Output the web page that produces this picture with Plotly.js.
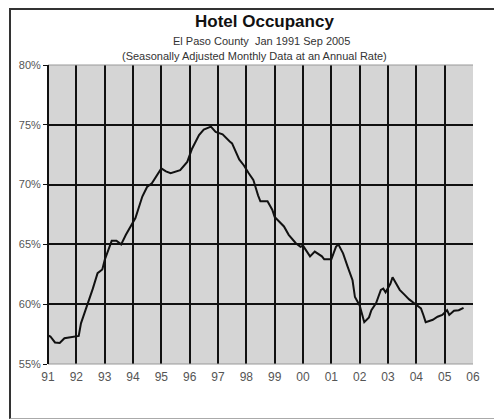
<!DOCTYPE html>
<html>
<head>
<meta charset="utf-8">
<script src="https://cdn.plot.ly/plotly-3.0.1.min.js"></script>
<style>
  html, body { margin: 0; padding: 0; background: white; }
  #frame {
    position: absolute; left: 9px; top: 8px; width: 490px; height: 408px;
    border-top: 2px solid #333; border-left: 2px solid #333; border-bottom: 1px solid #aaa;
  }
  #chart { position: absolute; left: 0; top: 0; width: 494px; height: 419px; }
</style>
</head>
<body>
<div id="frame"></div>
<div id="chart"></div>
<script>
/* Hotel occupancy, El Paso County (month, %) */
const MONTHS = [
  '1991-01','1991-02','1991-04','1991-06','1991-08','1991-12',
  '1992-02','1992-03','1992-06','1992-08','1992-10','1992-12',
  '1993-01','1993-03','1993-04','1993-06','1993-08','1993-10','1993-12',
  '1994-02','1994-05','1994-07','1994-09','1994-11',
  '1995-01','1995-03','1995-05','1995-09','1995-12',
  '1996-02','1996-05','1996-07','1996-10','1996-12',
  '1997-03','1997-06','1997-07','1997-10','1997-12',
  '1998-02','1998-04','1998-06','1998-07','1998-10','1998-12',
  '1999-01','1999-05','1999-07','1999-10','1999-12',
  '2000-01','2000-04','2000-06','2000-09','2000-10',
  '2001-01','2001-03','2001-04','2001-06','2001-08','2001-10','2001-11','2001-12',
  '2002-01','2002-03','2002-05','2002-06','2002-08','2002-10','2002-11','2002-12',
  '2003-02','2003-03','2003-06','2003-08','2003-10','2003-12',
  '2004-03','2004-04','2004-05','2004-08','2004-10','2004-12',
  '2005-02','2005-03','2005-05','2005-07','2005-09'
];
const OCCUPANCY = [
  57.4, 57.3, 56.8, 56.75, 57.15, 57.3,
  57.35, 58.4, 60.1, 61.3, 62.6, 62.9,
  63.7, 64.7, 65.3, 65.3, 65.0, 65.8, 66.5,
  67.2, 69.0, 69.8, 70.1, 70.7,
  71.35, 71.1, 70.95, 71.2, 71.9,
  73.0, 74.15, 74.6, 74.85, 74.4,
  74.2, 73.6, 73.45, 72.1, 71.6,
  70.95, 70.4, 69.1, 68.6, 68.6, 67.9,
  67.3, 66.5, 65.8, 65.1, 64.8,
  64.9, 64.0, 64.4, 64.0, 63.75,
  63.75, 64.8, 65.0, 64.25, 63.1, 62.0, 60.6, 60.2,
  59.9, 58.5, 58.9, 59.5, 60.1, 61.2, 61.3, 61.0,
  61.7, 62.25, 61.2, 60.8, 60.4, 60.1,
  59.65, 59.1, 58.5, 58.7, 58.95, 59.1,
  59.5, 59.1, 59.45, 59.5, 59.7
];
const Y_TICKS = [55, 60, 65, 70, 75, 80];
const Y_LABELS = ['55%', '60%', '65%', '70%', '75%', '80%'];

const FONT = 'Liberation Sans Narrow, Arial Narrow, Liberation Sans, sans-serif';

const trace = {
  type: 'scatter', mode: 'lines',
  x: MONTHS, y: OCCUPANCY,
  line: { color: '#111', width: 2 },
  hoverinfo: 'skip',
};

Plotly.newPlot('chart', [trace], {
  width: 494, height: 419,
  paper_bgcolor: 'rgba(0,0,0,0)', plot_bgcolor: '#d5d5d5',
  margin: { l: 48, r: 21, t: 65, b: 55 },
  font: { family: FONT, size: 11, color: '#555' },
  showlegend: false,
  xaxis: {
    type: 'date', range: ['1991-01-01', '2006-01-01'],
    dtick: 'M12', tick0: '1991-01-01', tickformat: '%y',
    showgrid: true, gridcolor: '#111', gridwidth: 2,
    zeroline: false, showline: false,
    ticks: '', ticklabelstandoff: 4,
    tickfont: { family: FONT, size: 12, color: '#555' },
  },
  yaxis: {
    range: [55, 80], tickvals: Y_TICKS, ticktext: Y_LABELS,
    showgrid: true, gridcolor: '#111', gridwidth: 2,
    zeroline: false, showline: false,
    ticks: 'outside', ticklen: 4, tickcolor: '#111',
    tickfont: { family: FONT, size: 11, color: '#555' },
  },
  annotations: [
    { text: '<b>Hotel Occupancy</b>', xref: 'paper', yref: 'paper',
      x: 0.51, y: 1, yshift: 44, xanchor: 'center', yanchor: 'middle', showarrow: false,
      font: { family: FONT, size: 17, color: '#111' } },
    { text: 'El Paso County  Jan 1991 Sep 2005', xref: 'paper', yref: 'paper',
      x: 0.503, y: 1, yshift: 24, xanchor: 'center', yanchor: 'middle', showarrow: false,
      font: { family: FONT, size: 11, color: '#333' } },
    { text: '(Seasonally Adjusted Monthly Data at an Annual Rate)', xref: 'paper', yref: 'paper',
      x: 0.485, y: 1, yshift: 9, xanchor: 'center', yanchor: 'middle', showarrow: false,
      font: { family: FONT, size: 11, color: '#333' } },
  ],
  shapes: [
    // light top/bottom edges, black left edge like the year grid lines
    { type: 'line', xref: 'paper', yref: 'paper', x0: 0, x1: 1, y0: 1, y1: 1,
      line: { color: '#999', width: 1 } },
    { type: 'line', xref: 'paper', yref: 'paper', x0: 0, x1: 1, y0: 0, y1: 0,
      line: { color: '#999', width: 1 } },
    { type: 'line', xref: 'paper', yref: 'paper', x0: 0, x1: 0, y0: 0, y1: 1,
      line: { color: '#111', width: 2 } },
  ],
}, { displayModeBar: false, staticPlot: true });
</script>
</body>
</html>
